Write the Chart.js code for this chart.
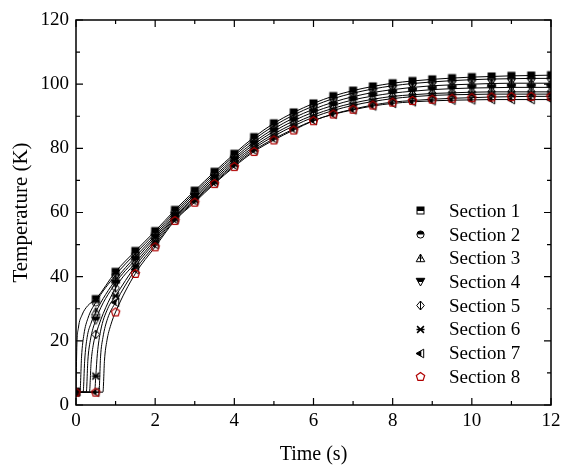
<!DOCTYPE html>
<html><head><meta charset="utf-8">
<script src="https://cdn.jsdelivr.net/npm/chart.js@4.4.0/dist/chart.umd.min.js"></script>
<style>html,body{margin:0;padding:0;background:#fff;}#wrap{width:561px;height:468px;position:relative}</style>
</head><body><div id="wrap"><canvas id="c" width="561" height="468"></canvas></div>
<script>
// ---- data ----
const times = [0,0.5,1,1.5,2,2.5,3,3.5,4,4.5,5,5.5,6,6.5,7,7.5,8,8.5,9,9.5,10,10.5,11,11.5,12];
const sectionNames = ['Section 1','Section 2','Section 3','Section 4','Section 5','Section 6','Section 7','Section 8'];
const s1 = [4,33,41.5,48,54.2,60.8,66.8,72.7,78.3,83.5,87.8,91.2,94,96.3,98,99.3,100.3,101,101.5,101.9,102.2,102.4,102.6,102.7,102.8];
const s2 = [4,32,40.5,47.2,53.5,60.2,66.2,72.1,77.7,82.8,87,90.4,93.2,95.5,97.2,98.5,99.5,100.2,100.7,101.1,101.4,101.6,101.7,101.8,101.8];
const s3 = [4,29,39,46.2,52.8,59.6,65.6,71.4,77,82,86.1,89.5,92.2,94.4,96.1,97.4,98.3,99,99.5,99.8,100,100.2,100.3,100.3,100.3];
const s4 = [4,26.5,38,45.3,52.2,59,65,70.8,76.4,81.3,85.3,88.6,91.3,93.4,95.1,96.3,97.2,97.8,98.3,98.6,98.8,98.9,99,99,99];
const s5 = [4,22,36.5,44.3,51.5,58.6,64.5,70.2,75.8,80.6,84.5,87.7,90.4,92.5,94.1,95.3,96.2,96.7,97.1,97.3,97.5,97.6,97.6,97.6,97.6];
const s6 = [4,9,34,43.3,50.8,58.2,64,69.7,75.2,80,83.8,87,89.7,91.8,93.4,94.6,95.5,96.1,96.5,96.7,96.8,96.9,96.9,96.9,96.9];
const s7 = [4,4,32,42.2,50,57.8,63.6,69.3,74.7,79.4,83,86,88.7,90.6,92,93.2,94,94.5,94.8,95,95.1,95.2,95.2,95.2,95.2];
const s8 = [4,4,29,41,49.3,57.5,63.2,69,74.3,79,82.6,85.7,88.6,90.7,92.2,93.5,94.4,94.9,95.3,95.6,95.8,96,96.1,96.2,96.2];
// early-time readings of each curve (between markers)
const onset1 = [[0.02,18],[0.06,24],[0.15,28],[0.3,31]];
const onset2 = [[0.1,4],[0.14,15],[0.2,22],[0.3,27]];
const onset3 = [[0.18,4],[0.22,14],[0.28,21],[0.38,25.5]];
const onset4 = [[0.26,4],[0.3,14],[0.36,20]];
const onset5 = [[0.34,4],[0.38,13],[0.44,19]];
const onset6 = [[0.47,4],[0.54,16],[0.62,23],[0.8,30]];
const onset7 = [[0.58,4],[0.62,15],[0.68,21],[0.8,27]];
const onset8 = [[0.68,4],[0.72,14],[0.78,20],[0.88,25]];
const xMajor = [0,2,4,6,8,10,12];
const xMinor = [1,3,5,7,9,11];
const yMajor = [0,20,40,60,80,100,120];
const yMinor = [10,30,50,70,90,110];

const series = [s1,s2,s3,s4,s5,s6,s7,s8];
const onsets = [onset1,onset2,onset3,onset4,onset5,onset6,onset7,onset8];

// ---- markers ----
function makeMarker(kind){
  const c = document.createElement('canvas'); c.width = 13; c.height = 13;
  const g = c.getContext('2d'); g.translate(6.5,6.5);
  g.strokeStyle = '#000'; g.fillStyle = '#000'; g.lineWidth = 1;
  const poly = (pts)=>{g.beginPath(); pts.forEach((p,i)=> i? g.lineTo(p[0],p[1]) : g.moveTo(p[0],p[1])); g.closePath();};
  switch(kind){
    case 0: g.fillRect(-3.5,-3.5,7,4); g.strokeRect(-3.5,-3.5,7,7); break;
    case 1: g.beginPath(); g.arc(0,0,3.6,Math.PI,0); g.closePath(); g.fill();
            g.beginPath(); g.arc(0,0,3.6,0,Math.PI*2); g.stroke(); break;
    case 2: poly([[0,-4.5],[4.3,3.2],[-4.3,3.2]]); g.stroke();
            g.beginPath(); g.moveTo(0,-4.5); g.lineTo(0,3.2); g.moveTo(-2.2,-0.5); g.lineTo(2.2,-0.5); g.stroke(); break;
    case 3: poly([[-4.3,-3.2],[4.3,-3.2],[2.2,0.5],[-2.2,0.5]]); g.fill();
            poly([[-4.3,-3.2],[4.3,-3.2],[0,4.5]]); g.stroke(); break;
    case 4: poly([[0,-4.5],[3.8,0],[0,4.5],[-3.8,0]]); g.stroke();
            g.beginPath(); g.moveTo(0,-4.5); g.lineTo(0,4.5); g.stroke(); break;
    case 5: g.lineWidth = 1.5; g.beginPath();
            g.moveTo(-3.4,-3.4); g.lineTo(3.4,3.4); g.moveTo(3.4,-3.4); g.lineTo(-3.4,3.4);
            g.moveTo(-4,0); g.lineTo(4,0); g.stroke(); break;
    case 6: poly([[-4.5,0],[3.2,-4.3],[3.2,4.3]]); g.stroke();
            poly([[-4.5,0],[0.8,-2.9],[0.8,2.9]]); g.fill(); break;
    case 7: g.strokeStyle = '#b00000'; g.lineWidth = 1.2;
            const pts = [];
            for(let k=0;k<5;k++){const a = -Math.PI/2 + k*2*Math.PI/5; pts.push([4.4*Math.cos(a),4.4*Math.sin(a)+0.3]);}
            poly(pts); g.stroke(); break;
  }
  return c;
}
const markers = sectionNames.map((_,i)=>makeMarker(i));

function lineData(vals, onset){
  const pts = times.map((t,i)=>({x:t,y:vals[i]}));
  onset.forEach(([t,v])=>{ if(!times.includes(t)) pts.push({x:t,y:v}); });
  pts.sort((a,b)=>a.x-b.x);
  return pts;
}

const datasets = [];
series.forEach((vals,i)=>{
  datasets.push({label: sectionNames[i]+' line', data: lineData(vals, onsets[i]), showLine: true,
    borderColor:'#000', borderWidth:1, pointRadius:0, cubicInterpolationMode:'monotone', order: 100});
});
series.forEach((vals,i)=>{
  datasets.push({label: sectionNames[i], data: times.map((t,k)=>({x:t,y:vals[k]})), showLine:false,
    pointStyle: markers[i], pointRadius: 5, order: 8-i});
});

const FONT = "'Liberation Serif','Times New Roman',serif";

const framePlugin = {
  id:'frame',
  afterDatasetsDraw(chart){
    const {ctx, chartArea:a, scales:{x,y}} = chart;
    ctx.save();
    ctx.strokeStyle='#000'; ctx.lineWidth=1.5;
    ctx.strokeRect(a.left, a.top, a.right-a.left, a.bottom-a.top);
    ctx.lineWidth=1.2;
    ctx.beginPath();
    const tick=(arr,len)=>{
      arr.forEach(v=>{const px=x.getPixelForValue(v);
        ctx.moveTo(px,a.bottom); ctx.lineTo(px,a.bottom-len);
        ctx.moveTo(px,a.top); ctx.lineTo(px,a.top+len);});
    };
    const ytick=(arr,len)=>{
      arr.forEach(v=>{const py=y.getPixelForValue(v);
        ctx.moveTo(a.left,py); ctx.lineTo(a.left+len,py);
        ctx.moveTo(a.right,py); ctx.lineTo(a.right-len,py);});
    };
    tick(xMajor,7); tick(xMinor,4); ytick(yMajor,7); ytick(yMinor,4);
    ctx.stroke();
    // legend
    const lx = Math.round(x.getPixelForValue(8.68)), ly = y.getPixelForValue(60.5), step = 23.7;
    ctx.fillStyle='#000'; ctx.font = '19px '+FONT; ctx.textBaseline='middle'; ctx.textAlign='left';
    sectionNames.forEach((n,i)=>{
      const m = markers[i];
      ctx.drawImage(m, Math.round(lx - m.width/2), Math.round(ly + i*step - m.height/2));
      ctx.fillText(n, lx + 29, ly + i*step + 1);
    });
    ctx.restore();
  }
};

new Chart(document.getElementById('c'), {
  type:'scatter',
  data:{datasets},
  options:{
    responsive:false, animation:false,
    layout:{padding:{left:0,right:10,top:20,bottom:0}},
    plugins:{legend:{display:false}, tooltip:{enabled:false}},
    scales:{
      x:{type:'linear', min:0, max:12,
        afterBuildTicks(s){ s.ticks = xMajor.map(v=>({value:v})); },
        afterFit(s){ s.height = 63; s.paddingRight = 0; s.paddingLeft = 0; },
        grid:{display:false, drawTicks:false}, border:{display:false},
        ticks:{color:'#000', padding:5, font:{family:FONT, size:19}},
        title:{display:true, text:'Time (s)', color:'#000', font:{family:FONT, size:20, lineHeight:1.2}, padding:{top:0,bottom:1}}
      },
      y:{type:'linear', min:0, max:120,
        afterBuildTicks(s){ s.ticks = yMajor.map(v=>({value:v})); },
        afterFit(s){ s.width = 76; s.paddingTop = 0; s.paddingBottom = 0; },
        grid:{display:false, drawTicks:false}, border:{display:false},
        ticks:{color:'#000', padding:7, font:{family:FONT, size:19}},
        title:{display:true, text:'Temperature (K)', color:'#000', font:{family:FONT, size:21, lineHeight:1.2}, padding:{top:9,bottom:0}}
      }
    }
  },
  plugins:[framePlugin]
});
</script></body></html>
